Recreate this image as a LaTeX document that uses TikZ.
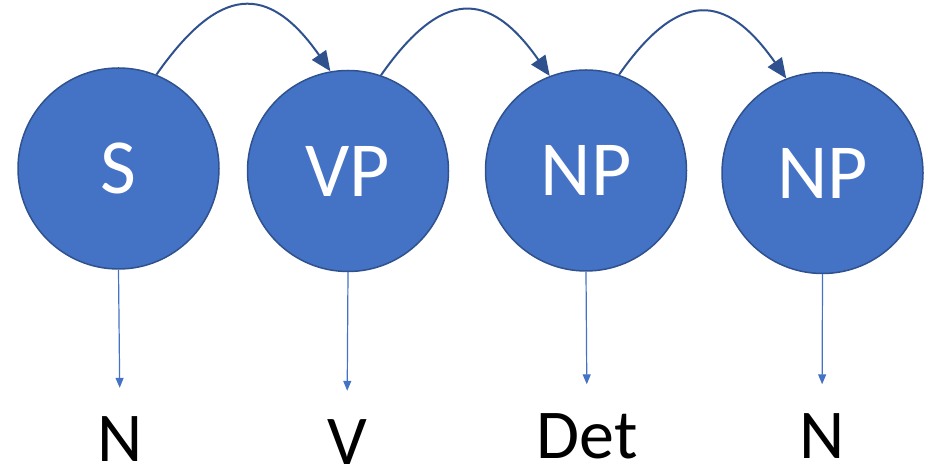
\documentclass[tikz,border=0pt]{standalone}
\usepackage{fontspec}
\setmainfont{Carlito}
\usetikzlibrary{arrows.meta}
\definecolor{nodeblue}{HTML}{4472C4}
\definecolor{darkblue}{HTML}{2F528F}
\begin{document}
\begin{tikzpicture}[x=1pt,y=1pt,
  phrase/.style={circle, draw=darkblue, line width=1.5pt, fill=nodeblue, minimum size=201pt, inner sep=0pt, text=white, font=\fontsize{78}{80}\selectfont},
  word/.style={inner sep=0pt, text height=44pt, text depth=0pt, font=\fontsize{70}{72}\selectfont},
  link/.style={darkblue, line width=2pt, -{Triangle[length=20pt,width=17pt]}, looseness=1.6},
  leaf/.style={nodeblue, line width=1.2pt, -{Triangle[length=10pt,width=8pt]}, shorten >=30pt}]
\useasboundingbox (0,0) rectangle (933,465);
\node[phrase] (S) at (118.5,296.5) {S};
\node[phrase] (VP) at (348,294) {VP};
\node[phrase] (NPa) at (586,294.5) {NP};
\node[phrase] (NPb) at (822.5,292) {NP};
\node[word] (wN) at (120,25) {N};
\node[word] (wV) at (347,22) {V};
\node[word] (wDet) at (587,28.5) {Det};
\node[word] (wNb) at (822,28.5) {N};
\draw[link] (S.68) to[out=55,in=125] (VP.100);
\draw[link] (VP.71) to[out=55,in=125] (NPa.111);
\draw[link] (NPa.71) to[out=55,in=125] (NPb.111);
\draw[leaf] (S.south) -- (wN.north);
\draw[leaf] (VP.south) -- (wV.north);
\draw[leaf] (NPa.south) -- (wDet.north);
\draw[leaf] (NPb.south) -- (wNb.north);
\end{tikzpicture}
\end{document}
